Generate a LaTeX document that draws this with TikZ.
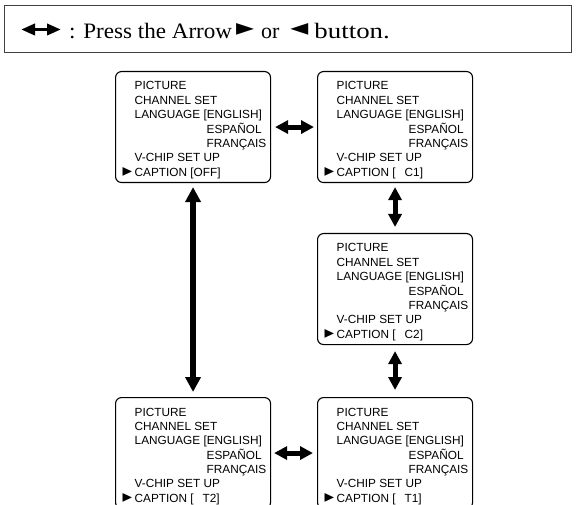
\documentclass[tikz,border=0pt]{standalone}
\usepackage{fontspec}
\setmainfont{Liberation Serif}
\newfontfamily\menufont{Liberation Sans}
\newfontfamily\symfont{DejaVu Sans}
\usetikzlibrary{arrows.meta}
\tikzset{
  menubox/.style={draw, line width=1.1pt, rounded corners=6pt, minimum width=155pt,
    minimum height=111pt, inner sep=0pt, anchor=north west},
  menutext/.style={anchor=base west, inner sep=0pt,
    font=\menufont\fontsize{11.8}{14.3}\selectfont},
  conn/.style={line width=5pt, {Triangle[width=13pt,length=13pt]}-{Triangle[width=13pt,length=13pt]}},
  longconn/.style={line width=6pt, {Triangle[width=15pt,length=15pt]}-{Triangle[width=15pt,length=15pt]}},
  harrow/.style={line width=3.5pt, {Triangle[width=11pt,length=14pt]}-{Triangle[width=11pt,length=14pt]}},
  hdrbox/.style={draw=black!75, line width=1pt, minimum width=567pt, minimum height=47pt,
    inner sep=0pt, anchor=north west},
}
\newcommand{\mtri}{\makebox[0pt][r]{\resizebox{9.5pt}{9pt}{\symfont ►}\hspace{2.5pt}}}
\newcommand{\htri}[1]{\raisebox{3.5pt}{\resizebox{18pt}{12pt}{\symfont #1}}}
\newcommand{\menulines}[1]{\begin{tabular}[t]{@{}l@{}}
  PICTURE\\CHANNEL SET\\LANGUAGE [ENGLISH]\\\hspace*{72pt}ESPAÑOL\\\hspace*{72pt}FRANÇAIS\\V-CHIP SET UP\\\mtri CAPTION [#1]\end{tabular}}
\begin{document}
\begin{tikzpicture}[x=1pt,y=-1pt]
\clip (0,0) rectangle (576,505);
\fill[white] (0,0) rectangle (576,505);
% header
\node[hdrbox] (hdr) at (4,5) {};
\coordinate (ha) at (21,29.5);
\coordinate (hb) at (61,29.5);
\draw[harrow] (ha) -- (hb);
\node[anchor=base west, inner sep=0pt, font=\fontsize{22}{26}\selectfont] (htxt) at (69,39)
  {\scalebox{1.05}[1]{: Press the Arrow}\hspace{4pt}\htri{►}\hspace{7pt}or\hspace{11pt}\htri{◄}\hspace{6pt}\scalebox{1.22}[1]{button.}};
% menu boxes
\node[menubox] (m1) at (115,71) {};
\node[menubox] (m2) at (317,71) {};
\node[menubox] (m3) at (317,233) {};
\node[menubox] (m4) at (115,397) {};
\node[menubox] (m5) at (317,397) {};
\node[menutext] (t1) at (134.5,90) {\menulines{OFF}};
\node[menutext] (t2) at (336.5,90) {\menulines{\hspace{9pt}C1}};
\node[menutext] (t3) at (336.5,252) {\menulines{\hspace{9pt}C2}};
\node[menutext] (t4) at (134.5,416) {\menulines{\hspace{9pt}T2}};
\node[menutext] (t5) at (336.5,416) {\menulines{\hspace{9pt}T1}};
% connectors
\draw[conn, shorten <=4pt, shorten >=3pt] (m1.east) -- (m2.west);
\draw[longconn, shorten <=4pt, shorten >=5pt] (m1.south) -- (m4.north);
\draw[conn, shorten <=4pt, shorten >=6pt] (m2.south) -- (m3.north);
\draw[conn, shorten <=6pt, shorten >=7pt] (m3.south) -- (m5.north);
\draw[conn, shorten <=3pt, shorten >=4pt] (m4.east) -- (m5.west);
\end{tikzpicture}
\end{document}
